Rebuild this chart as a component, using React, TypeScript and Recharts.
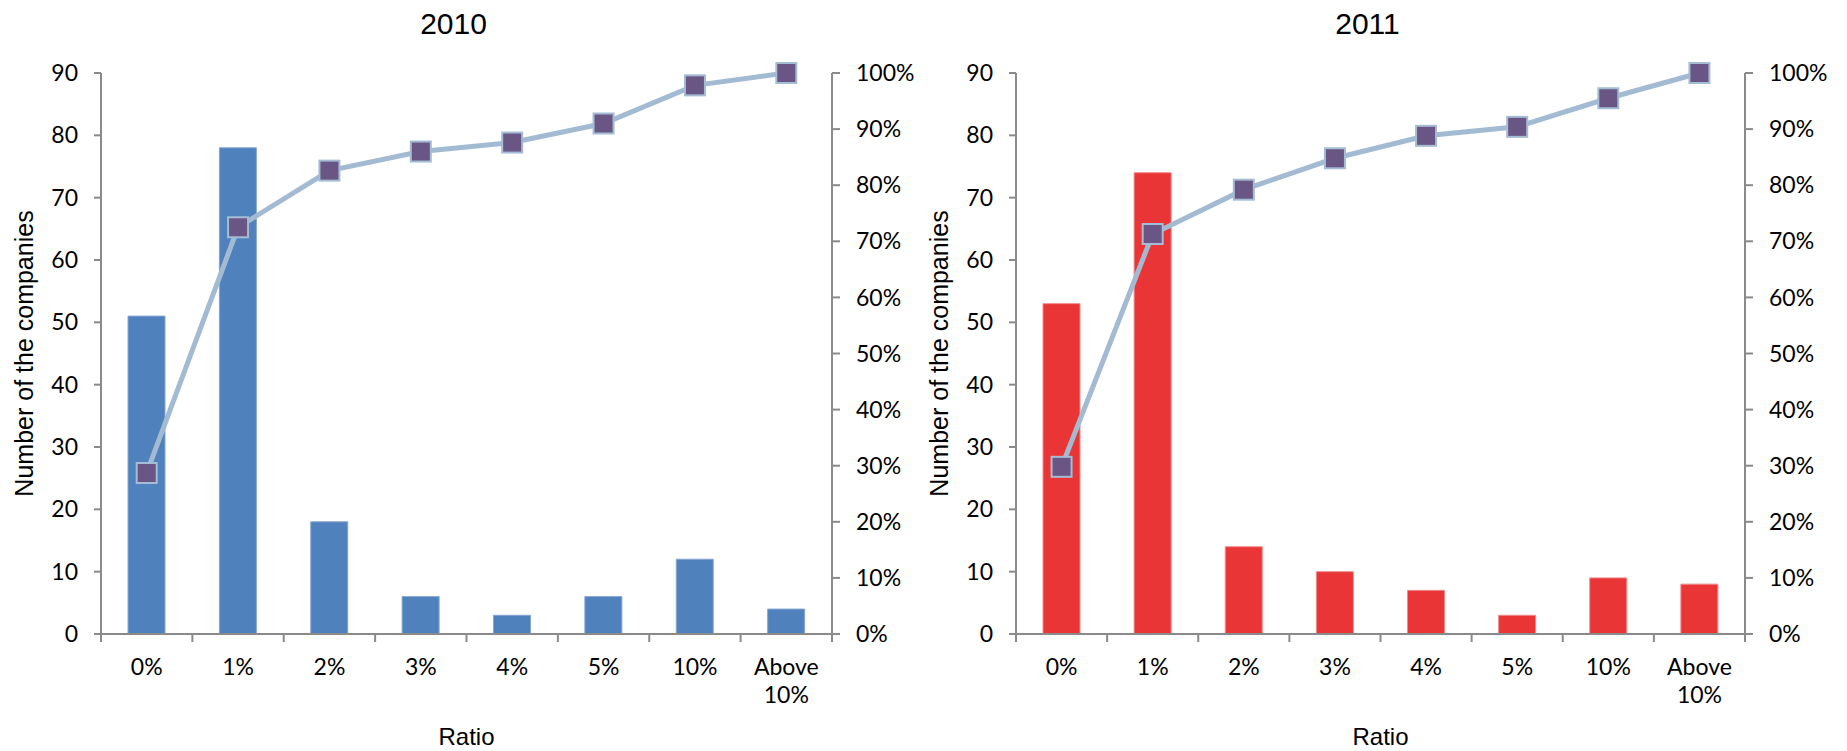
import { ComposedChart, Bar, Line, XAxis, YAxis, Label } from 'recharts';

const ratioCats = ['0%', '1%', '2%', '3%', '4%', '5%', '10%', 'Above 10%'];
const companies2010 = [51, 78, 18, 6, 3, 6, 12, 4];
const cumulative2010 = [28.7, 72.5, 82.6, 86.0, 87.6, 91.0, 97.8, 100];
const companies2011 = [53, 74, 14, 10, 7, 3, 9, 8];
const cumulative2011 = [29.8, 71.3, 79.2, 84.8, 88.8, 90.4, 95.5, 100];
const countTicks = [0, 10, 20, 30, 40, 50, 60, 70, 80, 90];
const pctTicks = [0, 10, 20, 30, 40, 50, 60, 70, 80, 90, 100];

const H = 751;
const TOP = 73;
const XAXIS_H = 117;
const AXIS = '#8a8a8a';
const TICK_FONT = 'Lato, "Open Sans", sans-serif';
const LABEL_FONT = '"Liberation Sans", Arial, sans-serif';

type PanelProps = {
  title: string;
  counts: number[];
  cum: number[];
  color: string;
  edge: string;
  left: number;
  width: number;
  leftW: number;
  rightW: number;
  labelX: number;
};

function Panel({ title, counts, cum, color, edge, left, width, leftW, rightW, labelX }: PanelProps) {
  const rows = ratioCats.map((c, i) => ({ cat: c, count: counts[i], cum: cum[i] }));
  const plotW = width - leftW - rightW;
  const band = plotW / ratioCats.length;
  const plotBottom = H - XAXIS_H;

  const CatTick = (p: any) => {
    const { x, y, index } = p;
    const words = String(p.payload.value).split(' ');
    return (
      <g>
        <line x1={x - band / 2} y1={y} x2={x - band / 2} y2={y + 8} stroke={AXIS} strokeWidth={2} />
        {index === ratioCats.length - 1 && (
          <line x1={x + band / 2} y1={y} x2={x + band / 2} y2={y + 8} stroke={AXIS} strokeWidth={2} />
        )}
        {words.map((w, k) => (
          <text key={k} x={x} y={y + 41 + k * 28} textAnchor="middle" fontSize={23} fontFamily={TICK_FONT} fill="#000">
            {w}
          </text>
        ))}
      </g>
    );
  };

  const SquareDot = (p: any) => (
    <rect
      key={p.index}
      x={p.cx - 10}
      y={p.cy - 10}
      width={20}
      height={20}
      fill="#6a5684"
      stroke="#a5bcd5"
      strokeWidth={2}
    />
  );

  return (
    <div style={{ position: 'absolute', left, top: 0, width, height: H }}>
      <div
        style={{
          position: 'absolute',
          left: leftW + plotW / 2 - 13 - 100,
          width: 200,
          top: 7,
          textAlign: 'center',
          fontFamily: LABEL_FONT,
          fontSize: 30,
          lineHeight: '34px',
          color: '#000',
        }}
      >
        {title}
      </div>
      <ComposedChart width={width} height={H} data={rows} margin={{ top: TOP, right: 0, bottom: 0, left: 0 }}>
        <XAxis
          dataKey="cat"
          height={XAXIS_H}
          interval={0}
          tickSize={0}
          tickMargin={0}
          tickLine={false}
          axisLine={{ stroke: AXIS, strokeWidth: 2 }}
          tick={CatTick}
        >
          <Label
            content={(lp: any) => {
              const vb = lp.viewBox || {};
              return (
                <text
                  x={vb.x + vb.width / 2}
                  y={plotBottom + 111}
                  textAnchor="middle"
                  fontSize={24}
                  fontFamily={LABEL_FONT}
                  fill="#000"
                >
                  Ratio
                </text>
              );
            }}
          />
        </XAxis>
        <YAxis
          yAxisId="n"
          width={leftW}
          domain={[0, 90]}
          ticks={countTicks}
          interval={0}
          tickSize={7}
          tickMargin={16}
          axisLine={{ stroke: AXIS, strokeWidth: 2 }}
          tickLine={{ stroke: AXIS, strokeWidth: 2 }}
          tick={{ fontSize: 23, fontFamily: TICK_FONT, fill: '#000' }}
        >
          <Label
            content={() => {
              const cy = (TOP + plotBottom) / 2;
              return (
                <text
                  x={labelX}
                  y={cy}
                  transform={`rotate(-90 ${labelX} ${cy})`}
                  textAnchor="middle"
                  fontSize={25}
                  fontFamily={LABEL_FONT}
                  fill="#000"
                >
                  Number of the companies
                </text>
              );
            }}
          />
        </YAxis>
        <YAxis
          yAxisId="p"
          orientation="right"
          width={rightW}
          domain={[0, 100]}
          ticks={pctTicks}
          interval={0}
          tickSize={8}
          tickMargin={16}
          tickFormatter={(v: number) => `${v}%`}
          axisLine={{ stroke: AXIS, strokeWidth: 2 }}
          tickLine={{ stroke: AXIS, strokeWidth: 2 }}
          tick={{ fontSize: 23, fontFamily: TICK_FONT, fill: '#000' }}
        />
        <Bar yAxisId="n" dataKey="count" barSize={37} fill={color} stroke={edge} strokeWidth={1} isAnimationActive={false} />
        <Line
          yAxisId="p"
          dataKey="cum"
          type="linear"
          stroke="#a3bad3"
          strokeWidth={5}
          dot={SquareDot}
          activeDot={false}
          isAnimationActive={false}
        />
      </ComposedChart>
    </div>
  );
}

export default function App() {
  return (
    <div style={{ position: 'absolute', left: 0, top: 0, width: 1847, height: H, background: '#fff' }}>
      <Panel
        title="2010"
        counts={companies2010}
        cum={cumulative2010}
        color="#4f81bd"
        edge="#86a6d0"
        left={0}
        width={920}
        leftW={101}
        rightW={88}
        labelX={33}
      />
      <Panel
        title="2011"
        counts={companies2011}
        cum={cumulative2011}
        color="#e93535"
        edge="#f28a8a"
        left={920}
        width={927}
        leftW={96}
        rightW={102}
        labelX={28}
      />
    </div>
  );
}
